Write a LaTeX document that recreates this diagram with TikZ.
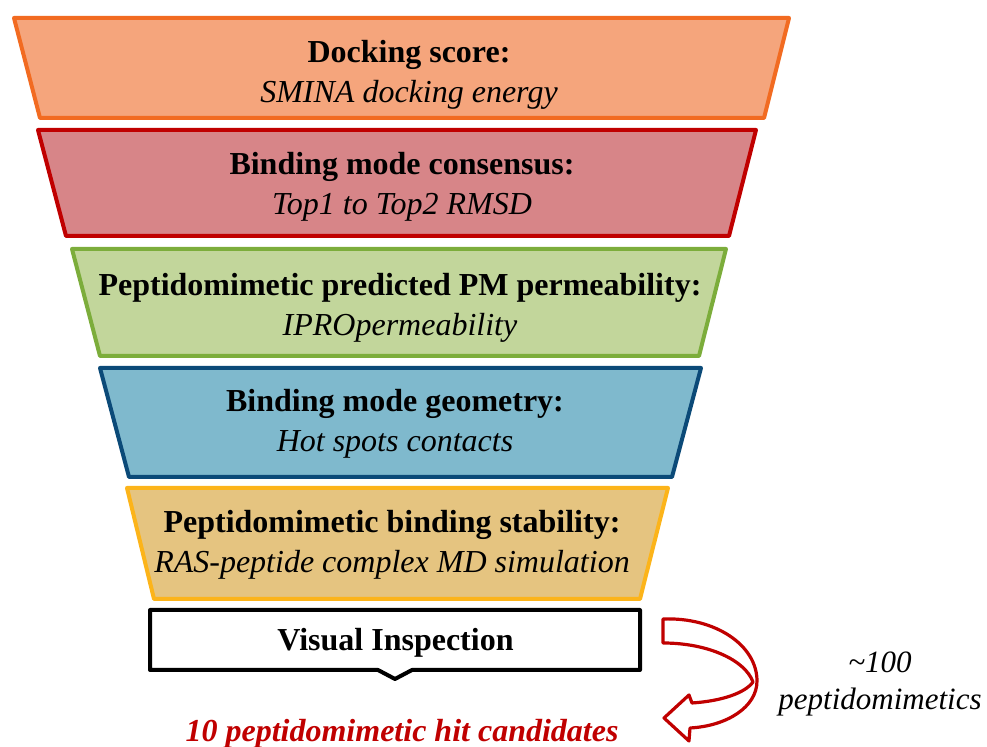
\documentclass[tikz,border=0pt]{standalone}
\usepackage{fontspec}
\setmainfont{Liberation Serif}

\definecolor{dockfill}{HTML}{F5A57C}
\definecolor{dockline}{HTML}{F26B21}
\definecolor{consfill}{HTML}{D78588}
\definecolor{consline}{HTML}{C00000}
\definecolor{permfill}{HTML}{C2D69B}
\definecolor{permline}{HTML}{7CAD3B}
\definecolor{geomfill}{HTML}{7FB9CD}
\definecolor{geomline}{HTML}{0B4A78}
\definecolor{stabfill}{HTML}{E5C480}
\definecolor{stabline}{HTML}{FCB41A}
\definecolor{hitred}{HTML}{C00000}

\begin{document}
\begin{tikzpicture}[
    x=0.5pt, y=-0.5pt,
    band/.style={line width=2pt, line join=round},
    lbl/.style={align=center, inner sep=0pt, font=\fontsize{16}{20}\selectfont},
    turn/.style={draw=hitred, fill=white, line width=1.6pt, line join=round}
]
    \useasboundingbox (0,0) rectangle (987,747);

    % funnel bands, widest on top
    \draw[band, draw=dockline, fill=dockfill] (14,18) -- (789,18) -- (764,118) -- (40,118) -- cycle;
    \node[lbl] (dock) at (409,74.5) {\textbf{Docking score:}\\\textit{SMINA docking energy}};

    \draw[band, draw=consline, fill=consfill] (38,130) -- (756,130) -- (729,236) -- (66,236) -- cycle;
    \node[lbl] (cons) at (402,187) {\textbf{Binding mode consensus:}\\\textit{Top1 to Top2 RMSD}};

    \draw[band, draw=permline, fill=permfill] (72,249) -- (726,249) -- (699,356) -- (100,356) -- cycle;
    \node[lbl] (perm) at (400,308) {\textbf{Peptidomimetic predicted PM permeability:}\\\textit{IPROpermeability}};

    \draw[band, draw=geomline, fill=geomfill] (100,368) -- (701,368) -- (672,477) -- (129,477) -- cycle;
    \node[lbl] (geom) at (395,423.5) {\textbf{Binding mode geometry:}\\\textit{Hot spots contacts}};

    \draw[band, draw=stabline, fill=stabfill] (127,488) -- (668,488) -- (640,599) -- (154,599) -- cycle;
    \node[lbl] (stab) at (392,545) {\textbf{Peptidomimetic binding stability:}\\\textit{RAS-peptide complex MD simulation}};

    % last filter with a small notch underneath
    \draw[line width=2pt, line join=round, fill=white]
        (150,610) -- (640,610) -- (640,670) -- (412,670) -- (395,679) -- (378,670) -- (150,670) -- cycle;
    \node[lbl] (inspect) at (395.5,642.5) {\textbf{Visual Inspection}};

    \node[lbl, anchor=base, text=hitred] (hits) at (402,742) {\textbf{\textit{10 peptidomimetic hit candidates}}};

    % bent arrow back to the hits
    \draw[turn] (663,619) .. controls (715,617) and (757,645) .. (757,681)
        .. controls (757,707) and (727,726) .. (690,728)
        -- (689,741) -- (664,718) -- (689,695) -- (692,703)
        .. controls (722,701) and (745,693) .. (753,682)
        .. controls (745,660) and (708,643) .. (663,643) -- cycle;

    \node[lbl, font=\fontsize{15.5}{18.5}\selectfont] (count) at (880,684) {\textit{\textasciitilde100}\\\textit{peptidomimetics}};
\end{tikzpicture}
\end{document}
